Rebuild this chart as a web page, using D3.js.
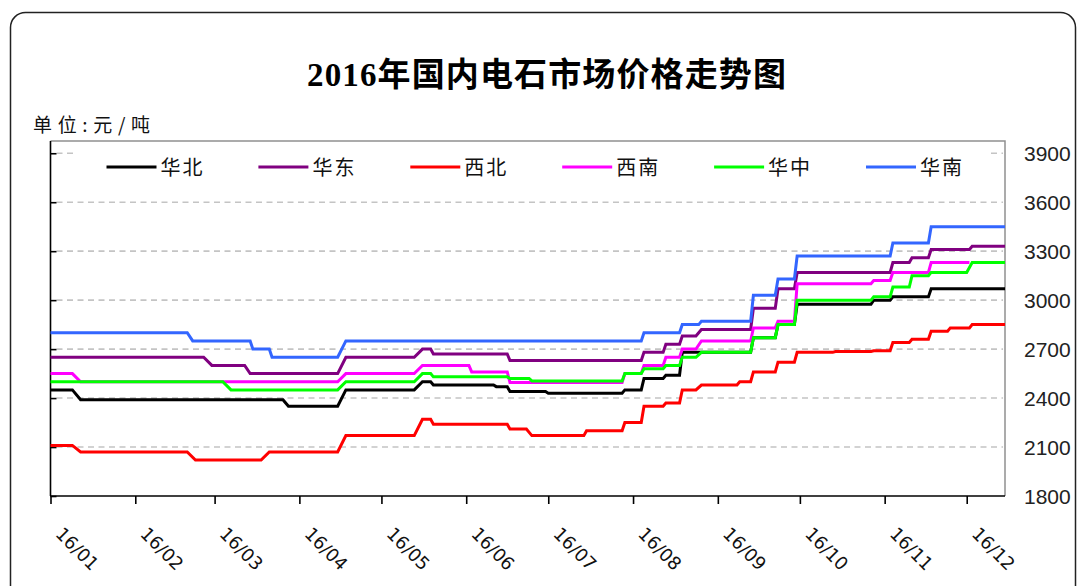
<!DOCTYPE html>
<html>
<head>
<meta charset="utf-8">
<script src="https://cdn.jsdelivr.net/npm/d3@7"></script>
<style>
  body { margin: 0; background: #fff; }
  svg { display: block; }
</style>
</head>
<body>
<div id="chart"></div>
<script>
// series names, in legend / drawing order
const seriesNames = ["华北", "华东", "西北", "西南", "华中", "华南"];
const colors = ["#000000", "#800080", "#ff0000", "#ff00ff", "#00ff00", "#3366ff"];
const monthLabels = ["16/01", "16/02", "16/03", "16/04", "16/05", "16/06",
                     "16/07", "16/08", "16/09", "16/10", "16/11", "16/12"];
const yTicks = [1800, 2100, 2400, 2700, 3000, 3300, 3600, 3900];

// price levels: [from, to, 元/吨] (2016)
const huabei = [
  ["01-01", "01-09", 2450], ["01-12", "03-26", 2390], ["03-28", "04-15", 2350],
  ["04-18", "05-13", 2450], ["05-16", "05-19", 2500], ["05-20", "06-11", 2480],
  ["06-12", "06-16", 2470], ["06-17", "06-30", 2440], ["07-01", "07-28", 2430],
  ["07-29", "08-04", 2450], ["08-05", "08-12", 2520], ["08-13", "08-18", 2540],
  ["08-19", "09-13", 2680], ["09-14", "09-22", 2770], ["09-23", "09-29", 2850],
  ["09-30", "10-27", 2975], ["10-28", "11-03", 3000], ["11-04", "11-17", 3020],
  ["11-18", "12-15", 3070]
];
const huadong = [
  ["01-01", "02-26", 2650], ["02-29", "03-12", 2600], ["03-14", "04-15", 2550],
  ["04-18", "05-13", 2650], ["05-16", "05-19", 2700], ["05-20", "06-16", 2670],
  ["06-17", "08-04", 2630], ["08-05", "08-12", 2680], ["08-13", "08-18", 2730],
  ["08-19", "08-24", 2780], ["08-26", "09-13", 2820], ["09-14", "09-22", 2950],
  ["09-23", "09-29", 3070], ["09-30", "11-03", 3170], ["11-04", "11-10", 3230],
  ["11-11", "11-17", 3260], ["11-18", "12-02", 3310], ["12-03", "12-15", 3330]
];
const xibei = [
  ["01-01", "01-09", 2110], ["01-12", "02-20", 2070], ["02-23", "03-18", 2020],
  ["03-21", "04-15", 2070], ["04-18", "05-13", 2170], ["05-16", "05-19", 2270],
  ["05-20", "06-16", 2240], ["06-17", "06-23", 2210], ["06-25", "07-14", 2170],
  ["07-15", "07-28", 2200], ["07-29", "08-04", 2250], ["08-05", "08-12", 2350],
  ["08-13", "08-18", 2370], ["08-19", "08-24", 2450], ["08-26", "09-08", 2480],
  ["09-09", "09-13", 2500], ["09-14", "09-22", 2560], ["09-23", "09-29", 2620],
  ["09-30", "10-13", 2680], ["10-14", "10-27", 2685], ["10-28", "11-03", 2690],
  ["11-04", "11-10", 2740], ["11-11", "11-17", 2760], ["11-18", "11-24", 2810],
  ["11-25", "12-02", 2830], ["12-03", "12-15", 2850]
];
const xinan = [
  ["01-01", "01-09", 2550], ["01-12", "04-15", 2500], ["04-18", "05-13", 2550],
  ["05-16", "06-02", 2600], ["06-03", "06-16", 2560], ["06-17", "07-28", 2495],
  ["07-29", "08-04", 2550], ["08-05", "08-12", 2600], ["08-13", "08-18", 2650],
  ["08-19", "08-24", 2700], ["08-26", "09-13", 2750], ["09-14", "09-22", 2830],
  ["09-23", "09-29", 2870], ["09-30", "10-27", 3100], ["10-28", "11-03", 3120],
  ["11-04", "11-17", 3170], ["11-18", "12-02", 3230]
];
const huazhong = [
  ["01-01", "03-04", 2500], ["03-07", "04-15", 2450], ["04-18", "05-13", 2500],
  ["05-16", "05-19", 2550], ["05-20", "06-16", 2530], ["06-17", "06-24", 2520],
  ["06-25", "07-28", 2505], ["07-29", "08-04", 2550], ["08-05", "08-12", 2580],
  ["08-13", "08-18", 2600], ["08-19", "08-24", 2650], ["08-26", "09-13", 2680],
  ["09-14", "09-22", 2770], ["09-23", "09-29", 2850], ["09-30", "10-27", 3000],
  ["10-28", "11-03", 3020], ["11-04", "11-10", 3080], ["11-11", "11-17", 3150],
  ["11-18", "12-01", 3170], ["12-03", "12-15", 3230]
];
const huanan = [
  ["01-01", "02-20", 2800], ["02-22", "03-14", 2750], ["03-15", "03-21", 2700],
  ["03-22", "04-15", 2650], ["04-18", "08-04", 2750], ["08-05", "08-18", 2800],
  ["08-19", "08-25", 2850], ["08-26", "09-13", 2870], ["09-14", "09-22", 3030],
  ["09-23", "09-29", 3130], ["09-30", "11-03", 3270], ["11-04", "11-17", 3350],
  ["11-18", "12-15", 3450]
];
const allSeries = [huabei, huadong, xibei, xinan, huazhong, huanan];

const W = 1077, H = 586;
const plot = { left: 50.5, right: 1005, top: 141, bottom: 496 };

const parse = d3.timeParse("%Y-%m-%d");
const day = s => parse("2016-" + s);

const svg = d3.select("#chart")
  .append("svg")
  .attr("width", W)
  .attr("height", H);

// outer rounded frame
svg.append("rect")
  .attr("x", 10.5).attr("y", 12.5)
  .attr("width", 1065).attr("height", 620)
  .attr("rx", 15)
  .attr("fill", "#fff")
  .attr("stroke", "#222")
  .attr("stroke-width", 1.5);

svg.append("text")
  .attr("x", 307).attr("y", 86)
  .attr("textLength", 479)
  .attr("lengthAdjust", "spacing")
  .style("font-family", "'Liberation Serif', 'Noto Sans CJK SC', serif")
  .style("font-weight", "bold")
  .style("font-size", "33px")
  .attr("fill", "#000")
  .text("2016年国内电石市场价格走势图");

svg.append("text")
  .attr("x", 33).attr("y", 132)
  .attr("textLength", 117)
  .attr("lengthAdjust", "spacing")
  .style("font-family", "'Noto Sans CJK SC', sans-serif")
  .style("font-size", "19px")
  .attr("fill", "#111")
  .text("单位:元/吨");

const x = d3.scaleTime()
  .domain([day("01-01"), day("12-15")])
  .range([plot.left, plot.right]);

const y = d3.scaleLinear()
  .domain([1800, 3975])
  .range([plot.bottom, plot.top]);

// gridlines
svg.append("g")
  .selectAll("line")
  .data(yTicks.filter(v => v > 1800))
  .join("line")
  .attr("x1", plot.left + 6).attr("x2", plot.right - 2)
  .attr("y1", d => y(d)).attr("y2", d => y(d))
  .attr("stroke", "#c4c4c4")
  .attr("stroke-width", 1.6)
  .attr("stroke-dasharray", "6,4.5");

// plot area border (top, right)
svg.append("path")
  .attr("d", `M${plot.left},${plot.top}H${plot.right}V${plot.bottom}`)
  .attr("fill", "none")
  .attr("stroke", "#909090")
  .attr("stroke-width", 1.5);

// left axis with inner ticks, no labels
svg.append("g")
  .attr("transform", `translate(${plot.left},0)`)
  .call(d3.axisRight(y).tickValues(yTicks).tickSize(6).tickFormat(""))
  .call(g => g.select(".domain").attr("d", `M0,${plot.top}V${plot.bottom}`))
  .call(g => g.selectAll("path, line").attr("stroke", "#000").attr("stroke-width", 1.6));

// right tick labels
svg.append("g")
  .selectAll("text")
  .data(yTicks)
  .join("text")
  .attr("x", 1024)
  .attr("y", d => y(d))
  .attr("dy", "0.36em")
  .style("font-family", "'Liberation Sans', Arial, sans-serif")
  .style("font-size", "21px")
  .attr("fill", "#222")
  .text(d => d);

// bottom axis
const months = d3.timeMonth.range(day("01-01"), day("12-31"));
const xAxis = svg.append("g")
  .attr("transform", `translate(0,${plot.bottom})`)
  .call(d3.axisBottom(x).tickValues(months).tickSize(8).tickFormat(""))
  .call(g => g.select(".domain").attr("d", `M${plot.left},0H${plot.right}`))
  .call(g => g.selectAll("path, line").attr("stroke", "#000").attr("stroke-width", 1.6));

svg.append("g")
  .selectAll("text")
  .data(months)
  .join("text")
  .attr("transform", d => `translate(${x(d) + 4},535) rotate(45)`)
  .style("font-family", "'DejaVu Sans', Verdana, sans-serif")
  .style("font-size", "18px")
  .attr("fill", "#111")
  .text((d, i) => monthLabels[i]);

// lines
const line = d3.line()
  .x(d => x(d[0]))
  .y(d => y(d[1]));

svg.append("g")
  .selectAll("path")
  .data(allSeries)
  .join("path")
  .attr("fill", "none")
  .attr("stroke", (d, i) => colors[i])
  .attr("stroke-width", 3)
  .attr("d", d => line(d.flatMap(s => [[day(s[0]), s[2]], [day(s[1]), s[2]]])));

// legend (white box hides the top gridline)
const legend = svg.append("g");
legend.append("rect")
  .attr("x", 76).attr("y", 146)
  .attr("width", 911).attr("height", 42)
  .attr("fill", "#fff");

const item = legend.selectAll("g.item")
  .data(seriesNames)
  .join("g")
  .attr("class", "item")
  .attr("transform", (d, i) => `translate(${106.5 + i * 151.9},167)`);

item.append("line")
  .attr("x1", 0).attr("x2", 50)
  .attr("stroke", (d, i) => colors[i])
  .attr("stroke-width", 3);

item.append("text")
  .attr("x", 54)
  .attr("y", 7.5)
  .attr("textLength", 42)
  .style("font-family", "'Noto Sans CJK SC', sans-serif")
  .style("font-size", "20px")
  .attr("fill", "#111")
  .text(d => d);
</script>
</body>
</html>
